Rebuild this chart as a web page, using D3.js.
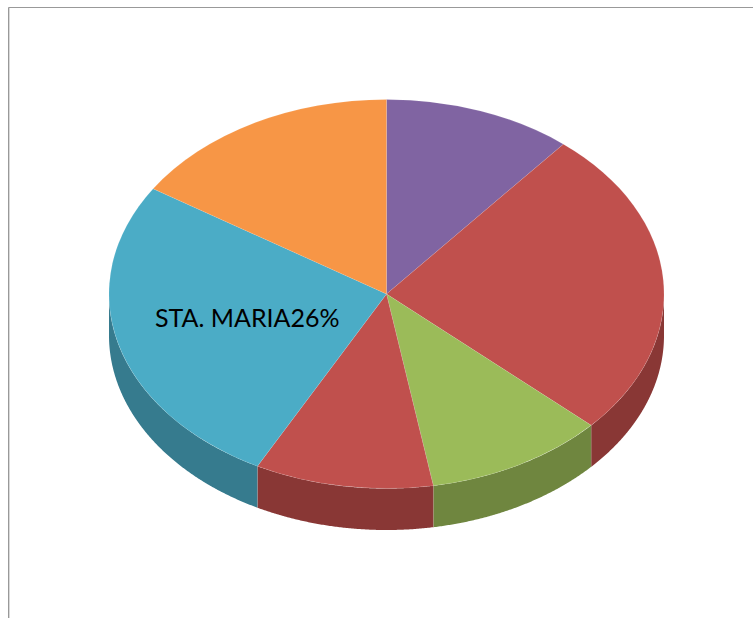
<!DOCTYPE html>
<html>
<head>
<meta charset="utf-8">
<script src="https://d3js.org/d3.v7.min.js"></script>
<style>
    html, body { margin: 0; padding: 0; background: #fff; }
    svg { display: block; }
</style>
</head>
<body>
<div id="chart"></div>
<script>
// slice shares, clockwise from 12 o'clock
const values = [11, 25.8, 10.5, 10.4, 26.4, 15.9];
const topColors = ['#8064a2', '#c0504d', '#9bbb59', '#c0504d', '#4bacc6', '#f79646'];
const sideColors = ['#5f4a79', '#893735', '#6f863f', '#893735', '#367b8e', '#b86f33'];
const labelName = 'STA. MARIA';
const labelValue = '26%';

function drawPie() {
    const width = 753;
    const height = 618;
    const cx = 386.5;
    const cy = 294;
    const rx = 277.5;
    const ry = 194.5;
    const depth = 41.5;

    const svg = d3.select("#chart").append("svg")
        .attr("width", width)
        .attr("height", height)
        .attr("viewBox", [0, 0, width, height]);

    // chart frame, only top and left edges are in the shot
    svg.append("path")
        .attr("d", `M8.5,${height}V7.5H${width}`)
        .attr("fill", "none")
        .attr("stroke", "#999");
    svg.append("line")
        .attr("x1", 9.5).attr("x2", 9.5)
        .attr("y1", 8).attr("y2", height)
        .attr("stroke", "#d9d9d9");

    const pie = d3.pie().sort(null).value(d => d);
    const slices = pie(values);

    // side wall, only the front half (90 to 270 degrees) shows
    const wall = d3.area()
        .x(a => cx + rx * Math.sin(a))
        .y0(a => cy - ry * Math.cos(a))
        .y1(a => cy - ry * Math.cos(a) + depth);

    const wallSlices = slices
        .map((s, i) => ({
            start: Math.max(s.startAngle, Math.PI / 2),
            end: Math.min(s.endAngle, Math.PI * 1.5),
            color: sideColors[i]
        }))
        .filter(s => s.end > s.start);

    svg.append("g")
        .selectAll("path")
        .data(wallSlices)
        .join("path")
            .attr("fill", d => d.color)
            .attr("d", d => wall(d3.range(d.start, d.end, 0.005).concat(d.end)));

    // thin light seams between the wall pieces
    svg.append("g")
        .selectAll("line")
        .data(wallSlices.slice(1))
        .join("line")
            .attr("x1", d => cx + rx * Math.sin(d.start))
            .attr("x2", d => cx + rx * Math.sin(d.start))
            .attr("y1", d => cy - ry * Math.cos(d.start))
            .attr("y2", d => cy - ry * Math.cos(d.start) + depth)
            .attr("stroke", "#fff")
            .attr("stroke-opacity", 0.2)
            .attr("stroke-width", 0.5);

    const arc = d3.arc().innerRadius(0).outerRadius(rx);

    svg.append("g")
        .attr("transform", `translate(${cx},${cy}) scale(1,${ry / rx})`)
        .selectAll("path")
        .data(slices)
        .join("path")
            .attr("fill", (d, i) => topColors[i])
            .attr("stroke", "#fff")
            .attr("stroke-opacity", 0.2)
            .attr("stroke-width", 0.5)
            .attr("vector-effect", "non-scaling-stroke")
            .attr("d", arc);

    svg.append("text")
        .attr("x", 155)
        .attr("y", 327)
        .attr("font-family", "Lato, 'Open Sans', sans-serif")
        .attr("font-size", 25)
        .attr("fill", "#000")
        .text(labelName + labelValue);
}

drawPie();
</script>
</body>
</html>
